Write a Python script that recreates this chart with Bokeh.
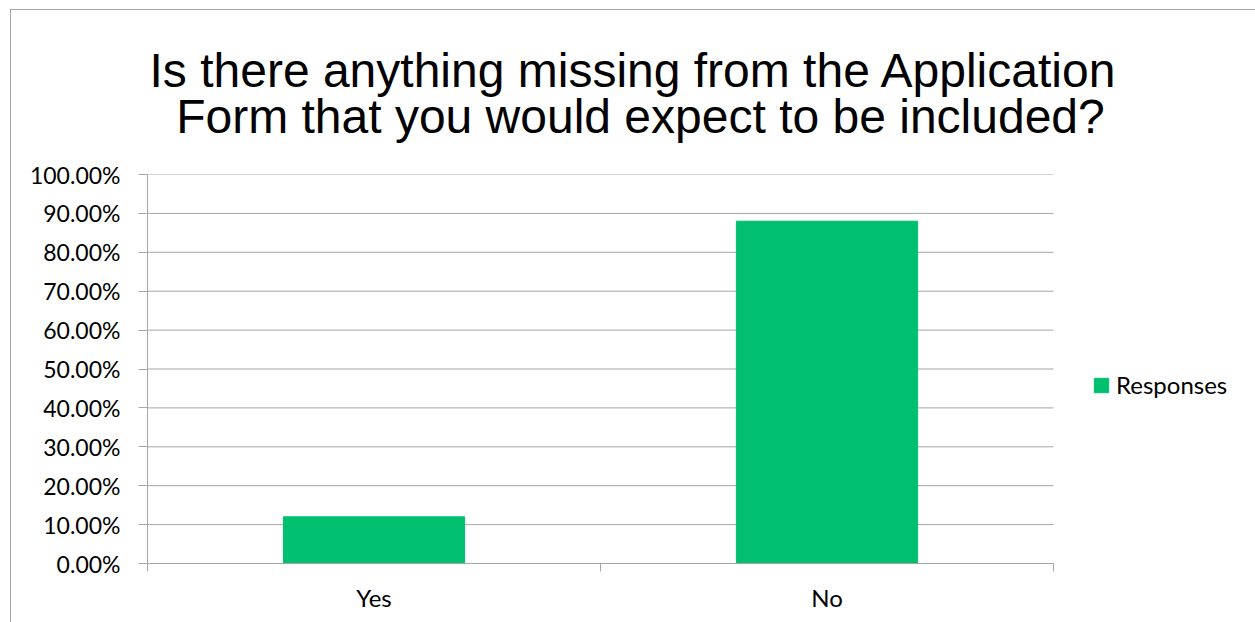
from bokeh.plotting import figure
from bokeh.models import (Range1d, FixedTicker, NumeralTickFormatter, Title,
                          Legend, LegendItem, ColumnDataSource)
from bokeh.embed import file_html
from bokeh.resources import INLINE

# ---- data ----
categories = ["Yes", "No"]
responses = [0.12, 0.88]
series_name = "Responses"
title_lines = ["Is there anything missing from the Application",
               "Form that you would expect to be included?"]
y_ticks = [0.0, 0.1, 0.2, 0.3, 0.4, 0.5, 0.6, 0.7, 0.8, 0.9, 1.0]

GREEN = "#00BF6F"
GRID = "#A6A6A6"
LABEL_FONT = "Lato"

# layout (pixels, canvas coordinates)
CANVAS_W, CANVAS_H = 1245, 613
LEFT, TOP, BOTTOM = 136, 164, 60
PLOT_W = 906                      # width of the category area
FRAME_W = CANVAS_W - LEFT         # frame extends to the right edge (legend lives there)

n = len(categories)
centers = [i + 0.5 for i in range(n)]
bounds = [float(i) for i in range(n + 1)]
x_end = n * FRAME_W / PLOT_W

src = ColumnDataSource(dict(x=centers, top=responses, cat=categories))
grid_src = ColumnDataSource(dict(x0=[0] * len(y_ticks), x1=[n] * len(y_ticks),
                                 y=y_ticks))

p = figure(width=CANVAS_W, height=CANVAS_H, output_backend="svg",
           toolbar_location=None,
           x_range=Range1d(0, x_end), y_range=Range1d(0, 1),
           min_border_left=LEFT, min_border_right=0, min_border_top=TOP,
           min_border_bottom=BOTTOM, margin=(9, 0, 0, 10))
p.styles = {"border-top": "1px solid #A6A6A6", "border-left": "1px solid #A6A6A6",
            "box-sizing": "border-box"}
p.outline_line_color = None
p.background_fill_color = "white"
p.border_fill_color = "white"
p.xgrid.grid_line_color = None
p.ygrid.grid_line_color = None

# horizontal gridlines limited to the category area
p.segment(x0="x0", x1="x1", y0="y", y1="y", source=grid_src,
          line_color=GRID, line_width=1)

r = p.vbar(x="x", top="top", width=0.4, source=src, fill_color=GREEN,
           line_color=GREEN)

# title: two lines (second nudged so both sit centred over the chart)
title_text = title_lines[0] + "\n" + "\u00a0\u00a0" + title_lines[1]
t = Title(text=title_text, align="left", text_font="Liberation Sans",
          text_font_size="48px", text_font_style="normal", text_color="black",
          text_line_height=0.87, offset=2, standoff=62)
p.add_layout(t, "above")

# x axis
xa = p.xaxis[0]
xa.bounds = (0, n)
xa.ticker = FixedTicker(ticks=centers, minor_ticks=bounds)
xa.major_label_overrides = {c: cat for c, cat in zip(centers, categories)}
xa.major_tick_line_color = None
xa.minor_tick_line_color = GRID
xa.minor_tick_in = 0
xa.minor_tick_out = 8
xa.axis_line_color = GRID
xa.major_label_standoff = 11
xa.major_label_text_font = LABEL_FONT
xa.major_label_text_font_size = "24px"
xa.major_label_text_color = "black"

# y axis
ya = p.yaxis[0]
ya.ticker = FixedTicker(ticks=y_ticks)
ya.formatter = NumeralTickFormatter(format="0.00%")
ya.major_tick_in = 0
ya.major_tick_out = 9
ya.minor_tick_line_color = None
ya.major_tick_line_color = GRID
ya.axis_line_color = GRID
ya.major_label_standoff = 18
ya.major_label_text_font = LABEL_FONT
ya.major_label_text_font_size = "23px"
ya.major_label_text_color = "black"

legend = Legend(items=[LegendItem(label=series_name, renderers=[r])],
                location=(PLOT_W + 39, 164), margin=0, padding=10,
                border_line_color=None, background_fill_alpha=0,
                glyph_width=18, glyph_height=18, label_standoff=6,
                label_text_font=LABEL_FONT, label_text_font_size="24px",
                label_text_color="black")
p.add_layout(legend)

open("out.html", "w").write(file_html(p, INLINE))
